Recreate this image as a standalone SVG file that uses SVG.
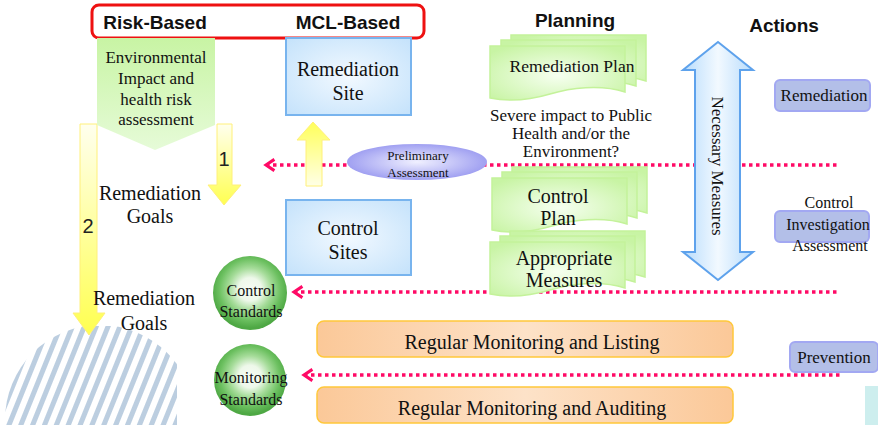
<svg xmlns="http://www.w3.org/2000/svg" width="878" height="425" viewBox="0 0 878 425">
<defs>
<style>
.serif{font-family:'Liberation Serif','Times New Roman','DejaVu Serif',serif;fill:#111;text-anchor:middle}
.head{font-family:'Liberation Sans',Arial,sans-serif;font-weight:bold;fill:#111;text-anchor:middle;font-size:19px}
.blue{fill:url(#gBlue);stroke:#78b4ee;stroke-width:2}
.doc{fill:url(#gGreen);stroke:#c4f29a;stroke-width:1.5}
.ring{fill:url(#gRing)}
.orange{fill:url(#gOrange);stroke:#ffc83a;stroke-width:1.5}
.act{fill:#b3bfe8;stroke:#a2a8f2;stroke-width:2}
.dot{stroke:#ff0a66;stroke-width:3.5;stroke-dasharray:3.5 3.5;fill:none}
.yel{stroke:#fff07a;stroke-width:1}
</style>
<radialGradient id="gBlue" cx="50%" cy="50%" r="70%"><stop offset="0" stop-color="#f2f9ff"/><stop offset="1" stop-color="#c4e2fb"/></radialGradient>
<radialGradient id="gGreen" cx="50%" cy="55%" r="65%"><stop offset="0" stop-color="#f6fff0"/><stop offset="1" stop-color="#c8f4a4"/></radialGradient>
<radialGradient id="gRing" cx="50%" cy="45%" r="52%"><stop offset="0" stop-color="#f6fcf4"/><stop offset="0.3" stop-color="#eef8ea"/><stop offset="0.55" stop-color="#a6dc9a"/><stop offset="0.8" stop-color="#6cc060"/><stop offset="1" stop-color="#4ea844"/></radialGradient>
<radialGradient id="gPurple" cx="50%" cy="50%" r="55%"><stop offset="0" stop-color="#f0f0ff"/><stop offset="1" stop-color="#9898f0"/></radialGradient>
<linearGradient id="gOrange" x1="0" y1="0" x2="1" y2="0"><stop offset="0" stop-color="#fbc898"/><stop offset="0.5" stop-color="#fde2c8"/><stop offset="1" stop-color="#fbc898"/></linearGradient>
<linearGradient id="gPent" x1="0" y1="0" x2="0" y2="1"><stop offset="0" stop-color="#c8f4a4"/><stop offset="1" stop-color="#e6fbd8"/></linearGradient>
<linearGradient id="gUp" x1="0" y1="0" x2="0" y2="1"><stop offset="0" stop-color="#ffff5a"/><stop offset="1" stop-color="#ffffe6"/></linearGradient>
<linearGradient id="gDown" x1="0" y1="0" x2="0" y2="1"><stop offset="0" stop-color="#ffffee"/><stop offset="1" stop-color="#ffff50"/></linearGradient>
<linearGradient id="gNec" x1="0" y1="0" x2="1" y2="0"><stop offset="0" stop-color="#b8dcfc"/><stop offset="0.5" stop-color="#f2f9ff"/><stop offset="1" stop-color="#b8dcfc"/></linearGradient>
<pattern id="hatch" width="11" height="11" patternUnits="userSpaceOnUse" patternTransform="rotate(22)"><rect width="11" height="11" fill="#fff"/><rect width="5" height="11" fill="#b4c8dc"/></pattern>
<clipPath id="hclip"><rect x="0" y="326" width="177" height="99"/></clipPath>
<path id="docShape" d="M0,0 H135 V46 C110,38 80,42 60,48 C40,54 20,56 0,52 Z"/>
<marker id="ah" viewBox="0 0 10 10" refX="8" refY="5" markerWidth="4" markerHeight="4" orient="auto-start-reverse" markerUnits="strokeWidth"><path d="M2,1 L8,5 L2,9" fill="none" stroke="#ff0a66" stroke-width="2.2"/></marker>
</defs>
<rect width="878" height="425" fill="#fff"/>

<g id="hatched">
<circle cx="100" cy="420" r="95" fill="url(#hatch)" clip-path="url(#hclip)" opacity="0.9"/>
</g>
<rect x="865" y="386" width="13" height="39" fill="#cdeeee"/>

<g id="connectors">
<line class="dot" x1="266" y1="165" x2="840" y2="165" marker-start="url(#ah)"/>
<line class="dot" x1="294" y1="292" x2="840" y2="292" marker-start="url(#ah)"/>
<line class="dot" x1="304" y1="375" x2="840" y2="375" marker-start="url(#ah)"/>
<g id="arrow-up">
<polygon class="yel" points="313,122 330,140 322,140 322,186 306,186 306,140 297,140" fill="url(#gUp)"/>
</g>
<g id="arrow-1">
<polygon class="yel" points="217,124 232,124 232,185 241,185 224,205 208,185 217,185" fill="url(#gDown)"/>
<text x="224" y="166" font-size="20" font-family="'Liberation Sans', Arial, sans-serif" fill="#222" text-anchor="middle">1</text>
</g>
<g id="arrow-2">
<polygon class="yel" points="80,124 97,124 97,313 105,313 89,335 73,313 80,313" fill="url(#gDown)"/>
<text x="88" y="233" font-size="20" font-family="'Liberation Sans', Arial, sans-serif" fill="#222" text-anchor="middle">2</text>
</g>
</g>

<g id="header">
<rect x="92" y="5" width="332" height="33" rx="7" fill="#fff" stroke="#ee1111" stroke-width="3"/>
<text class="head" x="155" y="29">Risk-Based</text>
<text class="head" x="348" y="29">MCL-Based</text>
</g>
<text class="head" x="575" y="27">Planning</text>
<text class="head" x="784" y="32">Actions</text>

<g font-family="'Liberation Serif', 'Times New Roman', 'DejaVu Serif', serif">
<g id="env-assessment">
<polygon points="97,38 215,38 215,125 155,150 97,125" fill="url(#gPent)"/>
<text class="serif" font-size="17"><tspan x="156" y="63">Environmental</tspan><tspan x="156" y="84">Impact and</tspan><tspan x="156" y="105">health risk</tspan><tspan x="156" y="125">assessment</tspan></text>
</g>

<g id="remediation-goals-1"><text class="serif" font-size="20"><tspan x="150" y="200">Remediation</tspan><tspan x="150" y="223">Goals</tspan></text></g>
<g id="remediation-goals-2"><text class="serif" font-size="20"><tspan x="144" y="305">Remediation</tspan><tspan x="144" y="330">Goals</tspan></text></g>

<g id="remediation-site">
<rect class="blue" x="286" y="38" width="125" height="77"/>
<text class="serif" font-size="20"><tspan x="348" y="76">Remediation</tspan><tspan x="348" y="100">Site</tspan></text>
</g>
<g id="control-sites">
<rect class="blue" x="286" y="200" width="125" height="75"/>
<text class="serif" font-size="20"><tspan x="348" y="235">Control</tspan><tspan x="348" y="259">Sites</tspan></text>
</g>

<g id="preliminary">
<ellipse cx="417" cy="162" rx="70" ry="18" fill="url(#gPurple)"/>
<text class="serif" font-size="13"><tspan x="418" y="160">Preliminary</tspan><tspan x="418" y="177">Assessment</tspan></text>
</g>

<g id="control-standards">
<circle class="ring" cx="250" cy="293" r="37"/>
<text class="serif" font-size="16"><tspan x="251" y="296">Control</tspan><tspan x="251" y="317">Standards</tspan></text>
</g>
<g id="monitoring-standards">
<circle class="ring" cx="250" cy="380" r="36"/>
<text class="serif" font-size="16"><tspan x="251" y="383">Monitoring</tspan><tspan x="251" y="405">Standards</tspan></text>
</g>

<g id="remediation-plan">
<use href="#docShape" class="doc" x="511" y="35"/>
<use href="#docShape" class="doc" x="501" y="40"/>
<use href="#docShape" class="doc" x="490" y="46"/>
<text class="serif" x="572" y="72" font-size="17.5">Remediation Plan</text>
</g>
<g id="severe-impact">
<text class="serif" font-size="17"><tspan x="571" y="121">Severe impact to Public</tspan><tspan x="571" y="139">Health and/or the</tspan><tspan x="571" y="157">Environment?</tspan></text>
</g>
<g id="control-plan">
<use href="#docShape" class="doc" x="512" y="167"/>
<use href="#docShape" class="doc" x="502" y="172"/>
<use href="#docShape" class="doc" x="492" y="178"/>
<text class="serif" font-size="20"><tspan x="558" y="203">Control</tspan><tspan x="558" y="225">Plan</tspan></text>
</g>
<g id="appropriate-measures">
<use href="#docShape" class="doc" x="510" y="231"/>
<use href="#docShape" class="doc" x="500" y="236"/>
<use href="#docShape" class="doc" x="490" y="242"/>
<text class="serif" font-size="20"><tspan x="564" y="265">Appropriate</tspan><tspan x="564" y="287">Measures</tspan></text>
</g>

<g id="necessary-measures">
<polygon points="718,42 753,70 740,70 740,252 753,252 718,280 683,252 695,252 695,70 683,70" fill="url(#gNec)" stroke="#5ea2ec" stroke-width="2"/>
<text class="serif" font-size="17" transform="translate(716,166) rotate(90)" dominant-baseline="middle">Necessary Measures</text>
</g>

<g id="action-remediation">
<rect class="act" x="775" y="80" width="95" height="31" rx="5"/>
<text class="serif" x="824" y="101" font-size="17">Remediation</text>
</g>
<g id="action-control">
<rect class="act" x="775" y="211" width="94" height="31" rx="5"/>
<text class="serif" font-size="16"><tspan x="829" y="208">Control</tspan><tspan x="828" y="230">Investigation</tspan><tspan x="830" y="251">Assessment</tspan></text>
</g>
<g id="action-prevention">
<rect class="act" x="790" y="342" width="88" height="30" rx="5"/>
<text class="serif" x="834" y="363" font-size="17">Prevention</text>
</g>

<g id="monitoring-listing">
<rect class="orange" x="317" y="321" width="416" height="36" rx="7"/>
<text class="serif" x="532" y="349" font-size="20">Regular Monitoring and Listing</text>
</g>
<g id="monitoring-auditing">
<rect class="orange" x="317" y="387" width="416" height="36" rx="7"/>
<text class="serif" x="532" y="415" font-size="20">Regular Monitoring and Auditing</text>
</g>
</g>
</svg>
